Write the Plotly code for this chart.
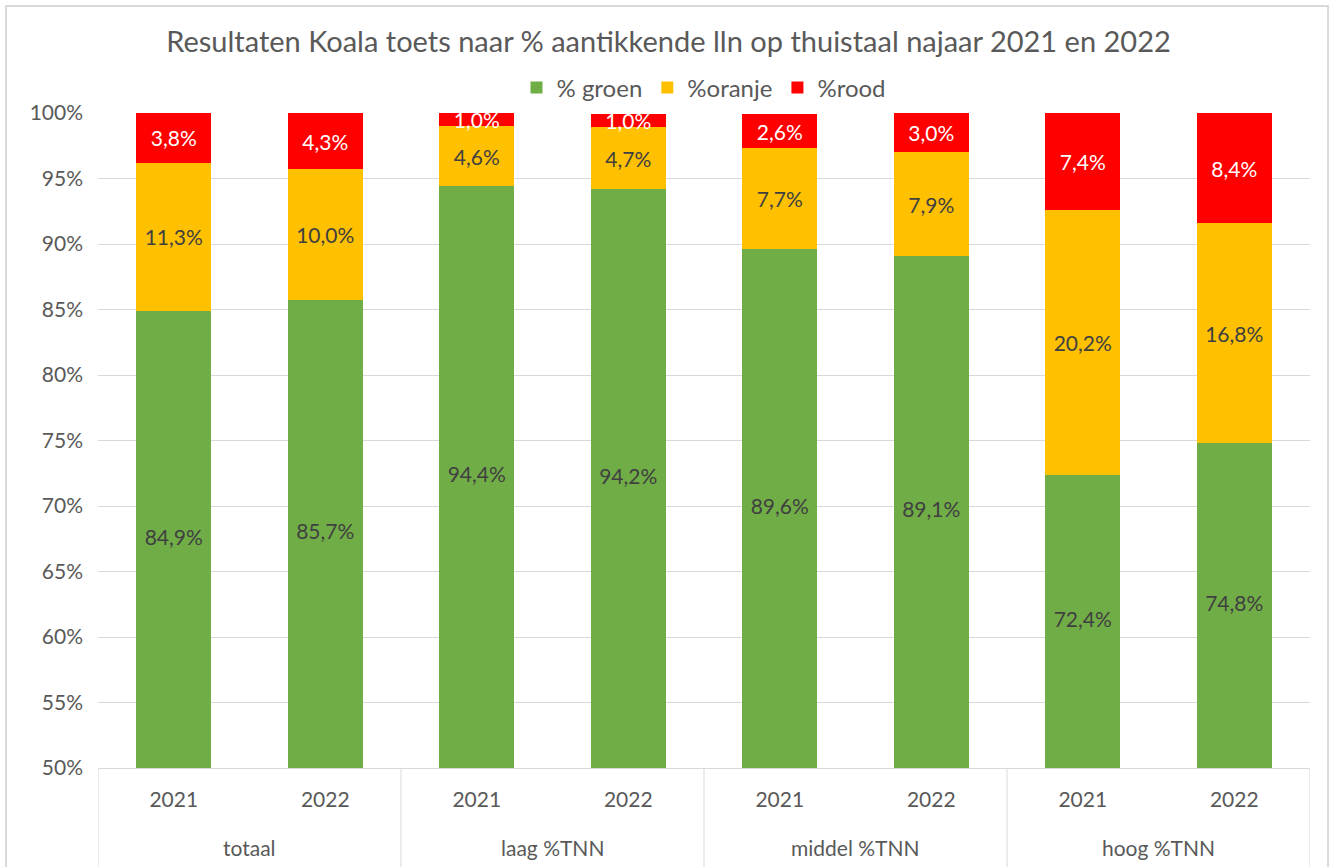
import plotly.graph_objects as go

group_names = ["totaal", "laag %TNN", "middel %TNN", "hoog %TNN"]
year_names = ["2021", "2022"]
groen = [84.9, 85.7, 94.4, 94.2, 89.6, 89.1, 72.4, 74.8]
oranje = [11.3, 10.0, 4.6, 4.7, 7.7, 7.9, 20.2, 16.8]
rood = [3.8, 4.3, 1.0, 1.0, 2.6, 3.0, 7.4, 8.4]
tick_vals = [50, 55, 60, 65, 70, 75, 80, 85, 90, 95, 100]
tick_text = [f"{v}%" for v in tick_vals]
y_min, y_max = 50, 100

cats = [f"{g} {y}" for g in group_names for y in year_names]
cat_years = [y for g in group_names for y in year_names]

FONT = "Lato"
LABEL_SIZE = 21

def fmt(v):
    return f"{v:.1f}".replace(".", ",") + "%"

fig = go.Figure()
series = [
    ("% groen", groen, "#70AD47", "#404040"),
    ("%oranje", oranje, "#FFC000", "#404040"),
    ("%rood", rood, "#FF0000", "#FFFFFF"),
]
for i, (name, vals, col, tcol) in enumerate(series):
    fig.add_trace(go.Bar(
        name=name,
        x=cats,
        y=vals,
        marker=dict(color=col, line=dict(width=0)),
        text=None if i == 0 else [fmt(v) for v in vals],
        textposition="inside",
        insidetextanchor="middle",
        textangle=0,
        textfont=dict(family=FONT, size=LABEL_SIZE, color=tcol),
        cliponaxis=True,
        constraintext="none",
    ))

# green labels centred in the visible part of the bar (axis starts at 50%)
fig.add_trace(go.Scatter(
    x=cats, y=[(y_min + v) / 2 for v in groen], mode="text",
    text=[fmt(v) for v in groen], textposition="middle center",
    textfont=dict(family=FONT, size=LABEL_SIZE, color="#404040"),
    showlegend=False, hoverinfo="skip",
))

fig.update_layout(
    barmode="stack",
    bargap=0.505,
    width=1337, height=867,
    paper_bgcolor="white", plot_bgcolor="white",
    margin=dict(l=98, r=27, t=113, b=99, autoexpand=False),
    title=dict(text="Resultaten Koala toets naar % aantikkende lln op thuistaal najaar 2021 en 2022",
               x=0.5, xanchor="center", y=0.952, yanchor="middle",
               font=dict(family=FONT, size=29, color="#595959")),
    legend=dict(orientation="h", x=0.5, xanchor="center", y=1.004, yanchor="bottom",
                font=dict(family=FONT, size=24, color="#595959"), traceorder="normal"),
    showlegend=True,
)
fig.update_yaxes(range=[y_min, y_max], tickvals=tick_vals, ticktext=tick_text,
                 showgrid=True, gridcolor="#D9D9D9", gridwidth=1,
                 zeroline=False, showline=False, ticklabelstandoff=14,
                 tickfont=dict(family=FONT, size=21, color="#595959"), ticks="")
fig.update_xaxes(type="category", categoryorder="array", categoryarray=cats,
                 tickvals=cats, ticktext=cat_years, range=[-0.5, len(cats) - 0.5],
                 showline=True, linecolor="#D9D9D9", showgrid=False, ticks="",
                 ticklabelstandoff=13,
                 tickfont=dict(family=FONT, size=21, color="#595959"))

# group labels and dividers below the axis
n_years = len(year_names)
for gi, g in enumerate(group_names):
    fig.add_annotation(x=gi * n_years + (n_years - 1) / 2, xref="x", y=-0.1221, yref="paper",
                       text=g, showarrow=False, yanchor="middle",
                       font=dict(family=FONT, size=21, color="#595959"))
for gi in range(len(group_names) + 1):
    fig.add_shape(type="line", xref="x", yref="paper",
                  x0=gi * n_years - 0.5, x1=gi * n_years - 0.5, y0=0, y1=-0.16,
                  line=dict(color="#D9D9D9", width=1))

# chart frame
fig.add_shape(type="rect", xref="paper", yref="paper", x0=-0.0759, x1=1.0149, y0=-0.2, y1=1.1634,
              line=dict(color="#D9D9D9", width=2), fillcolor="rgba(0,0,0,0)", layer="above")

fig.write_html("out.html", post_script="document.body.style.margin='0px';",
               config={"displayModeBar": False})
